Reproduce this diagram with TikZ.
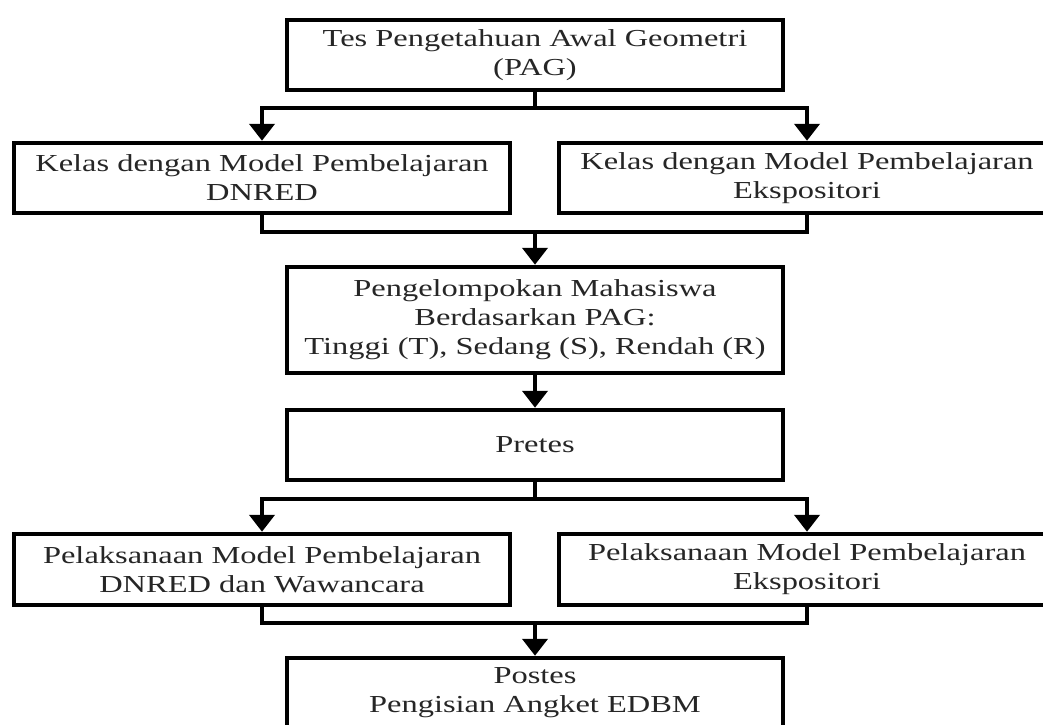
\documentclass[tikz,border=0pt]{standalone}
\usepackage{fontspec}
\setmainfont{Liberation Serif}[FakeStretch=1.33]
\usetikzlibrary{arrows.meta}
\begin{document}
\begin{tikzpicture}[x=1pt,y=-1pt,
  box/.style={draw=black, line width=4.5pt, line join=miter, minimum width=496pt,
    minimum height=70pt, inner sep=0pt, align=center, text=black!85,
    font=\fontsize{24.4}{29}\selectfont},
  conn/.style={draw=black, line width=4.5pt, line join=miter},
  arr/.style={conn, -{Triangle[width=25pt,length=17pt]}}]
\useasboundingbox (0,0) rectangle (1043,724);
\clip (0,0) rectangle (1043,724);
\fill[white] (0,0) rectangle (1043,724);

\node[box] (top) at (535,55) {Tes Pengetahuan Awal Geometri\\(PAG)};
\node[box] (left1) at (262,178) {Kelas dengan Model Pembelajaran\\DNRED};
\node[box] (right1) at (807,178) {Kelas dengan Model Pembelajaran\\Ekspositori};
\node[box, minimum height=106pt] (peng) at (535,320) {Pengelompokan Mahasiswa\\Berdasarkan PAG:\\Tinggi (T), Sedang (S), Rendah (R)};
\node[box] (pretes) at (535,445) {Pretes};
\node[box, minimum height=71pt] (left2) at (262,569.5) {Pelaksanaan Model Pembelajaran\\DNRED dan Wawancara};
\node[box, minimum height=71pt] (right2) at (807,569.5) {Pelaksanaan Model Pembelajaran\\Ekspositori};
\node[box] (final) at (535,693) {Postes\\Pengisian Angket EDBM};

\coordinate (split1) at (535,108);
\coordinate (merge1) at (535,232);
\coordinate (split2) at (535,499);
\coordinate (merge2) at (535,623);

\draw[conn] (top.south) -- (split1);
\draw[arr] (split1) -| (left1.north);
\draw[arr] (split1) -| (right1.north);
\draw[conn] (left1.south) |- (merge1) -| (right1.south);
\draw[arr] (merge1) -- (peng.north);
\draw[arr] (peng.south) -- (pretes.north);
\draw[conn] (pretes.south) -- (split2);
\draw[arr] (split2) -| (left2.north);
\draw[arr] (split2) -| (right2.north);
\draw[conn] (left2.south) |- (merge2) -| (right2.south);
\draw[arr] (merge2) -- (final.north);
\end{tikzpicture}
\end{document}
